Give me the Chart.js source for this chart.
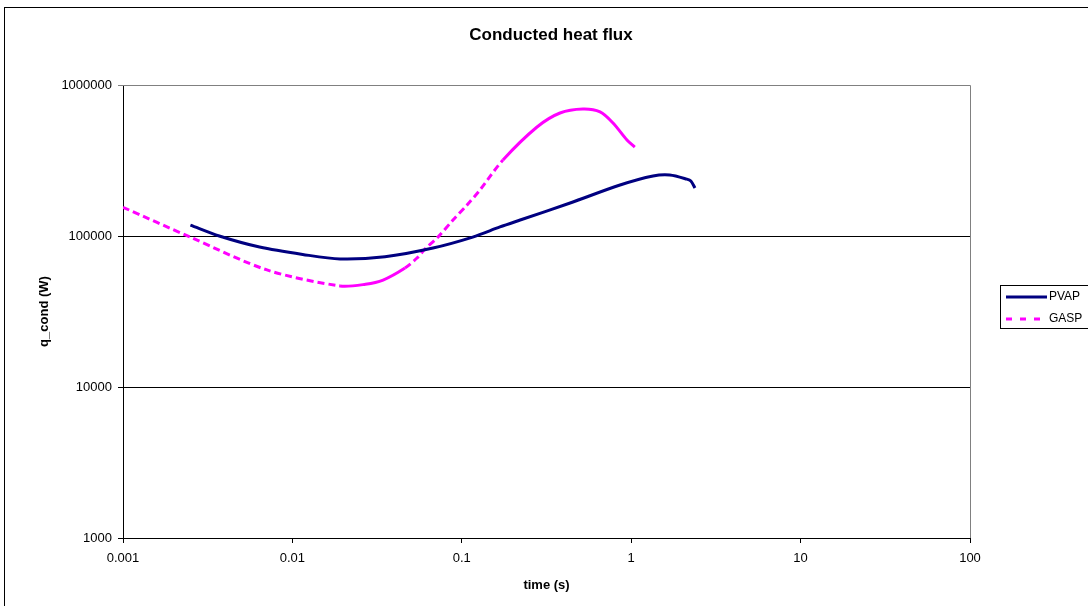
<!DOCTYPE html>
<html>
<head>
<meta charset="utf-8">
<script src="https://cdn.jsdelivr.net/npm/chart.js@4.4.1/dist/chart.umd.min.js"></script>
<style>
html,body{margin:0;padding:0;background:#fff;overflow:hidden;}
#wrap{position:absolute;left:0;top:0;width:1088px;height:606px;}
</style>
</head>
<body>
<div id="wrap"><canvas id="c" width="1088" height="606"></canvas></div>
<script>
// ---- data ----
const chartTitle = "Conducted heat flux";
const xAxisTitle = "time (s)";
const yAxisTitle = "q_cond (W)";
const xTickValues = [0.001, 0.01, 0.1, 1, 10, 100];
const yTickValues = [1000, 10000, 100000, 1000000];

const pvapLabel = "PVAP";
const pvapTime = [0.0025, 0.0037, 0.0064, 0.0115, 0.0191, 0.0352, 0.0676, 0.116, 0.168, 0.221, 0.436, 0.859, 1.345, 1.69, 2.13, 2.25, 2.38];
const pvapFlux = [118000, 100000, 84500, 75500, 70400, 72900, 83300, 98400, 114800, 127600, 165400, 217600, 249700, 253500, 238000, 231000, 208000];

const gaspLabel = "GASP";
const gaspTime = [0.001, 0.00249, 0.00708, 0.0191, 0.027, 0.0343, 0.0462, 0.0544, 0.0607, 0.0725, 0.0887, 0.1074, 0.128, 0.175, 0.278, 0.380, 0.519, 0.655, 0.781, 0.944, 1.05];
const gaspFlux = [155000, 98400, 59600, 46700, 47900, 51100, 61400, 71500, 82000, 98700, 127600, 160500, 201800, 318600, 527000, 652700, 693000, 663000, 560000, 432000, 388000];

const pts = (xs, ys) => xs.map((x, i) => ({x: x, y: ys[i]}));

const PVAP_COLOR = '#000080';
const GASP_COLOR = '#FF00FF';
const FONT = '"Liberation Sans", Arial, sans-serif';

const decorPlugin = {
  id: 'decor',
  beforeDraw(chart) {
    const ctx = chart.ctx;
    ctx.save();
    ctx.fillStyle = '#fff';
    ctx.fillRect(0, 0, chart.width, chart.height);
    ctx.restore();
  },
  afterDraw(chart) {
    const ctx = chart.ctx;
    const a = chart.chartArea;
    ctx.save();
    // outer frame
    ctx.strokeStyle = '#000';
    ctx.lineWidth = 1;
    ctx.strokeRect(4.5, 7.5, 1200, 700);
    // plot border top/right gray
    ctx.strokeStyle = '#808080';
    ctx.beginPath();
    ctx.moveTo(a.left, a.top + 0.5);
    ctx.lineTo(a.right + 0.5, a.top + 0.5);
    ctx.lineTo(a.right + 0.5, a.bottom);
    ctx.stroke();
    // title
    ctx.fillStyle = '#000';
    ctx.font = 'bold 17px ' + FONT;
    ctx.textAlign = 'center';
    ctx.textBaseline = 'middle';
    ctx.fillText(chartTitle, 551, 35);
    // x axis title
    ctx.font = 'bold 13px ' + FONT;
    ctx.fillText(xAxisTitle, (a.left + a.right) / 2, 585);
    // y axis title
    ctx.save();
    ctx.translate(44, (a.top + a.bottom) / 2);
    ctx.rotate(-Math.PI / 2);
    ctx.fillText(yAxisTitle, 0, 0);
    ctx.restore();
    // legend
    ctx.strokeStyle = '#000';
    ctx.lineWidth = 1;
    ctx.strokeRect(1000.5, 285.5, 150, 43);
    const items = [
      {label: pvapLabel, color: PVAP_COLOR, dash: [], y: 297},
      {label: gaspLabel, color: GASP_COLOR, dash: [6, 8], y: 319}
    ];
    items.forEach(it => {
      ctx.strokeStyle = it.color;
      ctx.lineWidth = 3;
      ctx.setLineDash(it.dash);
      ctx.beginPath();
      ctx.moveTo(1006, it.y);
      ctx.lineTo(1047, it.y);
      ctx.stroke();
      ctx.setLineDash([]);
      ctx.fillStyle = '#000';
      ctx.font = '12px ' + FONT;
      ctx.textAlign = 'left';
      ctx.textBaseline = 'middle';
      ctx.fillText(it.label, 1049, it.y);
    });
    ctx.restore();
  }
};

function gaspDash(ctx) {
  const x = ctx.p0.parsed.x;
  if (x < 0.019 || (x >= 0.046 && x < 0.17)) return [7, 4];
  return undefined;
}

new Chart(document.getElementById('c'), {
  type: 'line',
  data: {
    datasets: [
      {
        label: pvapLabel,
        data: pts(pvapTime, pvapFlux),
        borderColor: PVAP_COLOR,
        backgroundColor: PVAP_COLOR,
        borderWidth: 3,
        pointRadius: 0,
        tension: 0.3,
        fill: false
      },
      {
        label: gaspLabel,
        data: pts(gaspTime, gaspFlux),
        borderColor: GASP_COLOR,
        backgroundColor: GASP_COLOR,
        borderWidth: 3,
        pointRadius: 0,
        tension: 0.3,
        fill: false,
        segment: { borderDash: gaspDash }
      }
    ]
  },
  options: {
    responsive: false,
    animation: false,
    devicePixelRatio: 1,
    layout: { padding: { left: 0, top: 85, right: 118, bottom: 0 } },
    plugins: {
      legend: { display: false },
      title: { display: false },
      tooltip: { enabled: false }
    },
    scales: {
      x: {
        type: 'logarithmic',
        min: 0.001,
        max: 100,
        afterBuildTicks: s => { s.ticks = xTickValues.map(v => ({value: v})); },
        afterFit: s => { s.height = 68; },
        ticks: {
          color: '#000',
          font: { family: FONT, size: 13 },
          padding: 8,
          maxRotation: 0,
          autoSkip: false,
          callback: v => String(v)
        },
        grid: {
          display: true,
          drawOnChartArea: false,
          drawTicks: true,
          tickLength: 5,
          color: '#000'
        },
        border: { display: true, color: '#000', width: 1 }
      },
      y: {
        type: 'logarithmic',
        min: 1000,
        max: 1000000,
        afterBuildTicks: s => { s.ticks = yTickValues.map(v => ({value: v})); },
        afterFit: s => { s.width = 123; },
        ticks: {
          color: '#000',
          font: { family: FONT, size: 13 },
          padding: 6,
          autoSkip: false,
          callback: v => String(v)
        },
        grid: {
          display: true,
          drawOnChartArea: true,
          drawTicks: true,
          tickLength: 5,
          color: c => (c.tick && c.tick.value === 1000000) ? '#808080' : '#000'
        },
        border: { display: true, color: '#000', width: 1 }
      }
    }
  },
  plugins: [decorPlugin]
});
</script>
</body>
</html>
